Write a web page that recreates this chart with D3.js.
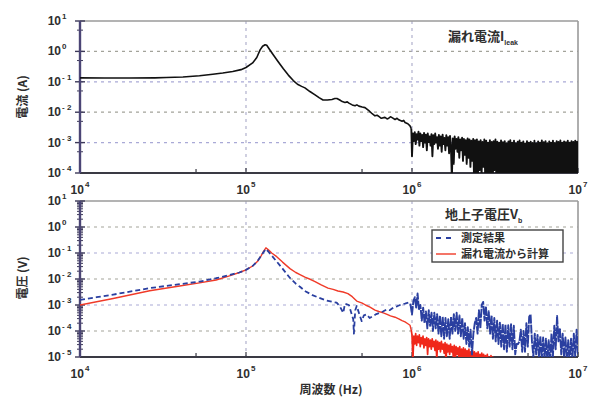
<!DOCTYPE html>
<html><head><meta charset="utf-8">
<script src="https://cdn.jsdelivr.net/npm/d3@7"></script>
<style>body{margin:0;background:#fff}svg{display:block}</style>
</head><body>
<svg id="c" width="595" height="398"></svg>
<script>
// ---------- data (log10 frequency [Hz], log10 value) ----------
const xTickExps = [4, 5, 6, 7];
const topYTickExps = [1, 0, -1, -2, -3, -4];
const botYTickExps = [1, 0, -1, -2, -3, -4, -5];
const topTitle = ["漏れ電流I", "leak"];
const botTitle = ["地上子電圧V", "b"];
const legendLabels = ["測定結果", "漏れ電流から計算"];
const xTitle = "周波数 (Hz)";
const topYTitle = "電流 (A)";
const botYTitle = "電圧 (V)";

// leakage current, smooth part
const leakSmooth = [[4.0,-0.87],[4.15,-0.875],[4.3,-0.875],[4.45,-0.87],[4.52,-0.86],[4.62,-0.84],[4.72,-0.8],[4.8,-0.75],[4.86,-0.71],[4.92,-0.66],[4.97,-0.6],[5.0,-0.53],[5.04,-0.38],[5.065,-0.2],[5.085,0.05],[5.1,0.17],[5.115,0.22],[5.125,0.2],[5.14,0.08],[5.165,-0.12],[5.195,-0.35],[5.225,-0.57],[5.255,-0.78],[5.285,-0.96],[5.31,-1.08],[5.335,-1.15],[5.355,-1.2],[5.385,-1.32],[5.416,-1.43],[5.44,-1.52],[5.464,-1.6],[5.49,-1.6],[5.518,-1.58],[5.535,-1.55],[5.548,-1.55],[5.565,-1.6],[5.58,-1.65],[5.596,-1.68],[5.61,-1.66],[5.62,-1.7],[5.64,-1.76],[5.657,-1.79],[5.668,-1.76],[5.68,-1.8],[5.7,-1.83],[5.717,-1.85],[5.74,-1.95],[5.76,-2.05],[5.777,-2.12],[5.79,-2.1],[5.8,-2.14],[5.815,-2.2],[5.837,-2.17],[5.85,-2.22],[5.86,-2.2],[5.87,-2.15],[5.88,-2.18],[5.898,-2.24],[5.91,-2.2],[5.92,-2.25],[5.94,-2.3],[5.95,-2.27],[5.958,-2.34],[5.975,-2.38],[5.988,-2.45],[5.996,-2.55]];
// leakage current, noisy part 1e6 .. 1e7 (evenly spaced in log f)
const leakNoiseRange = [6.0, 7.0];
const leakNoise = [
-3.45,-2.7,-2.95,-2.66,-3.05,-2.72,-2.9,-2.64,-3.1,-2.7,
-2.95,-2.75,-3.15,-2.68,-3.0,-2.74,-3.25,-2.7,-2.98,-2.8,
-3.1,-2.72,-3.45,-2.76,-3.05,-2.7,-3.0,-2.82,-3.2,-2.75,
-3.1,-2.8,-3.3,-2.74,-3.05,-2.85,-3.25,-2.76,-3.1,-2.82,
-3.35,-2.78,-3.15,-4.2,-2.86,-3.7,-2.8,-3.2,-2.88,-3.3,
-2.82,-3.5,-2.9,-3.25,-2.84,-3.6,-2.88,-3.4,-2.92,-3.7,
-2.86,-3.5,-2.9,-3.8,-2.94,-3.6,-2.88,-4.3,-2.92,-4.3,
-2.9,-4.2,-2.96,-3.9,-2.92,-4.1,-2.98,-3.8,-2.9,-4.2,
-2.94,-4.0,-3.0,-4.3,-2.92,-4.1,-2.98,-4.4,-2.95,-3.9,
-2.9,-4.2,-2.97,-4.0,-3.0,-4.5,-2.93,-4.1,-2.99,-4.3,
-2.95,-4.0,-3.02,-4.2,-2.96,-4.4,-2.92,-4.1,-3.0,-4.3,
-2.94,-4.2,-3.02,-4.5,-2.97,-4.0,-2.93,-4.3,-3.0,-4.1,
-2.96,-4.4,-3.03,-4.2,-2.95,-4.3,-3.0,-4.5,-2.97,-4.1,
-3.01,-4.3,-2.94,-4.4,-3.02,-4.15,-2.96,-4.3,-3.0,-4.5,
-2.93,-4.2,-2.99,-4.4,-2.95,-4.1,-3.02,-4.45,-2.96,-4.3,
-3.0,-4.35,-2.94,-4.15,-3.01,-4.5,-2.95,-4.25,-2.98,-4.4,
-2.93,-4.3,-3.0,-4.45,-2.96,-4.2,-2.99,-4.5,-2.94,-4.35,
-3.0,-4.2,-2.95,-4.45,-2.98,-4.3,-2.94,-4.5,-2.97,-4.2];

// measured voltage (blue dashed)
const measSmooth = [[4.0,-2.8],[4.1,-2.7],[4.2,-2.6],[4.42,-2.35],[4.6,-2.2],[4.72,-2.1],[4.82,-1.97],[4.9,-1.85],[4.96,-1.75],[5.0,-1.65],[5.04,-1.5],[5.07,-1.3],[5.09,-1.12],[5.105,-0.97],[5.12,-0.84],[5.135,-0.95],[5.155,-1.1],[5.185,-1.33],[5.22,-1.6],[5.265,-1.96],[5.3,-2.18],[5.325,-2.3],[5.36,-2.48],[5.40,-2.62],[5.44,-2.72],[5.48,-2.82],[5.52,-2.88],[5.546,-2.91],[5.565,-3.05],[5.586,-3.3],[5.596,-2.95],[5.62,-3.0],[5.646,-3.55],[5.65,-4.1],[5.658,-3.2],[5.667,-3.04],[5.68,-3.3],[5.697,-3.62],[5.71,-3.4],[5.727,-3.36],[5.745,-3.5],[5.767,-3.42],[5.785,-3.35],[5.807,-3.3],[5.825,-3.25],[5.847,-3.17],[5.865,-3.2],[5.887,-3.1],[5.91,-3.05],[5.938,-2.97],[5.958,-2.95],[5.978,-2.91],[5.99,-2.95]];
const measNoiseRange = [6.0, 7.0];
const measNoise = [
-3.36,-2.85,-2.7,-3.1,-2.56,-3.2,-3.0,-3.6,-3.1,-3.7,
-3.25,-3.9,-3.2,-3.8,-3.3,-4.0,-3.3,-3.9,-3.35,-4.1,
-3.4,-4.2,-3.45,-4.3,-3.5,-4.2,-3.55,-4.3,-3.45,-4.1,
-3.35,-4.0,-3.3,-4.1,-3.4,-4.2,-3.5,-4.3,-3.7,-4.5,
-3.85,-4.6,-3.95,-4.9,-4.1,-3.7,-3.5,-4.1,-3.2,-3.9,
-3.0,-2.88,-3.6,-3.05,-3.9,-3.24,-4.1,-3.4,-4.3,-3.5,
-4.4,-3.6,-4.5,-3.68,-4.6,-3.72,-4.7,-3.75,-4.8,-3.78,
-4.6,-3.74,-4.7,-3.8,-4.9,-4.5,-4.5,-4.4,-3.95,-4.8,
-4.0,-4.8,-3.7,-4.6,-3.45,-3.36,-4.4,-5.0,-4.1,-4.9,
-4.15,-5.0,-4.2,-5.1,-4.25,-5.1,-4.3,-5.1,-4.35,-5.2,
-4.1,-5.0,-3.8,-4.7,-3.42,-4.4,-3.9,-4.9,-4.1,-5.0,
-4.25,-5.1,-4.35,-5.2,-4.3,-5.1,-4.1,-5.0,-3.95,-4.9];

// voltage calculated from leakage current (red)
const calcSmooth = [[4.0,-3.0],[4.2,-2.75],[4.42,-2.45],[4.6,-2.27],[4.72,-2.15],[4.82,-2.04],[4.9,-1.88],[4.96,-1.75],[5.0,-1.65],[5.04,-1.5],[5.07,-1.32],[5.09,-1.12],[5.105,-0.95],[5.12,-0.8],[5.135,-0.88],[5.155,-1.0],[5.185,-1.14],[5.22,-1.35],[5.265,-1.6],[5.3,-1.75],[5.325,-1.83],[5.355,-1.93],[5.39,-2.02],[5.416,-2.1],[5.45,-2.22],[5.494,-2.35],[5.525,-2.4],[5.554,-2.46],[5.585,-2.5],[5.614,-2.56],[5.64,-2.68],[5.667,-2.85],[5.70,-2.93],[5.72,-3.0],[5.747,-3.08],[5.777,-3.2],[5.80,-3.25],[5.827,-3.3],[5.85,-3.36],[5.87,-3.42],[5.898,-3.47],[5.92,-3.53],[5.94,-3.6],[5.958,-3.65],[5.975,-3.72],[5.988,-3.78],[5.995,-3.95]];
const calcNoiseRange = [6.0, 6.52];
const calcNoise = [
-4.15,-5.1,-4.2,-4.5,-4.1,-4.55,-4.2,-4.45,-4.15,-4.6,
-4.25,-4.5,-4.2,-4.65,-4.3,-4.55,-4.25,-4.9,-4.3,-4.6,
-4.35,-4.7,-4.3,-4.6,-4.4,-4.75,-4.35,-5.1,-4.4,-4.7,
-4.45,-4.8,-4.4,-4.7,-4.5,-4.85,-4.45,-5.2,-4.5,-4.8,
-4.55,-4.9,-4.5,-4.8,-4.6,-5.0,-4.55,-5.2,-4.6,-4.9,
-4.65,-5.0,-4.6,-5.1,-4.7,-5.0,-4.65,-5.3,-4.7,-5.05,
-4.75,-5.1,-4.7,-5.2,-4.8,-5.1,-4.75,-5.3,-4.8,-5.15,
-4.85,-5.2,-4.8,-5.3,-4.9,-5.2,-4.85,-5.3,-4.9,-5.25,
-4.95,-5.3,-4.9,-5.3,-5.0,-5.3,-4.95,-5.3,-5.0,-5.3,
-5.05,-5.3,-5.1,-5.3,-5.2];

// ---------- helpers ----------
const p10 = e => Math.pow(10, e);
const pairs = arr => arr.map(([e, v]) => [p10(e), p10(v)]);
const noisePts = (range, vals) => vals.map((v, i) => [p10(range[0] + i * (range[1] - range[0]) / (vals.length - 1)), p10(v)]);

const svg = d3.select("#c");
const W = { l: 80, r: 578 };
const x = d3.scaleLog().domain([1e4, 1e7]).range([W.l, W.r]);
const yTop = d3.scaleLog().domain([1e-4, 1e1]).range([173, 21]);
const yBot = d3.scaleLog().domain([1e-5, 1e1]).range([357, 201]);

const numFont = "'Liberation Sans', Arial, sans-serif";
const jpFont = "'Noto Sans CJK JP', sans-serif";
const txtCol = "#2e2e2e";

const defs = svg.append("defs");
function clip(id, y) {
  defs.append("clipPath").attr("id", id).append("rect")
    .attr("x", W.l).attr("y", y.range()[1]).attr("width", W.r - W.l).attr("height", y.range()[0] - y.range()[1]);
}
clip("clipTop", yTop); clip("clipBot", yBot);

function panel(y, yExps, minorMults, clipId) {
  const g = svg.append("g");
  const [yb, yt] = y.range();
  // horizontal grid
  yExps.slice(1, -1).forEach((e, i) => {
    g.append("line").attr("x1", W.l).attr("x2", W.r).attr("y1", y(p10(e))).attr("y2", y(p10(e)))
      .attr("stroke", i % 2 ? "#a9a9d6" : "#a3a39a").attr("stroke-width", 1.2).attr("stroke-dasharray", "3,4");
  });
  // vertical grid
  [5, 6].forEach(e => {
    g.append("line").attr("x1", x(p10(e))).attr("x2", x(p10(e))).attr("y1", yt).attr("y2", yb)
      .attr("stroke", "#a9a9c8").attr("stroke-width", 1.1).attr("stroke-dasharray", "3,4");
  });
  // frame (top/right)
  g.append("line").attr("x1", W.l).attr("x2", W.r).attr("y1", yt).attr("y2", yt).attr("stroke", "#9a9a9a").attr("stroke-width", 1.6);
  g.append("line").attr("x1", W.r).attr("x2", W.r).attr("y1", yt).attr("y2", yb).attr("stroke", "#9a9a9a").attr("stroke-width", 1.6);
  // y ticks
  const lo = d3.min(yExps), hi = d3.max(yExps);
  for (let e = lo; e < hi; e++) {
    minorMults.forEach(m => {
      const yy = y(m * p10(e));
      g.append("line").attr("x1", W.l - 3).attr("x2", W.l + 3).attr("y1", yy).attr("y2", yy).attr("stroke", "#3c3858").attr("stroke-width", 1);
    });
  }
  yExps.forEach(e => {
    const yy = y(p10(e));
    g.append("line").attr("x1", W.l - 5).attr("x2", W.l + 5).attr("y1", yy).attr("y2", yy).attr("stroke", "#3c3858").attr("stroke-width", 1.4);
    g.append("text").attr("x", 61).attr("y", yy + 4).attr("text-anchor", "end")
      .attr("font-family", numFont).attr("font-weight", "bold").attr("font-size", 12).attr("fill", txtCol).text("10");
    g.append("text").attr("x", 62).attr("y", yy - 2).attr("text-anchor", "start")
      .attr("font-family", numFont).attr("font-weight", "bold").attr("font-size", 8).attr("fill", txtCol).text(e < 0 ? "- " + (-e) : e);
  });
  // x ticks
  [4, 5, 6].forEach(e => {
    const xx = x(5 * p10(e));
    g.append("line").attr("x1", xx).attr("x2", xx).attr("y1", yb).attr("y2", yb - 4).attr("stroke", "#3a3a44").attr("stroke-width", 1.2);
  });
  xTickExps.forEach(e => {
    const xx = x(p10(e));
    g.append("line").attr("x1", xx).attr("x2", xx).attr("y1", yb).attr("y2", yb - 5).attr("stroke", "#3a3a44").attr("stroke-width", 1.2);
    const t = g.append("text").attr("x", xx).attr("y", yb + 21).attr("text-anchor", "middle")
      .attr("font-family", numFont).attr("font-weight", "bold").attr("font-size", 12).attr("fill", txtCol);
    t.append("tspan").text("10");
    t.append("tspan").attr("dy", -7).attr("dx", 1).attr("font-size", 8).text(e);
  });
  // axes lines
  g.append("line").attr("x1", W.l).attr("x2", W.r).attr("y1", yb).attr("y2", yb).attr("stroke", "#3a3a44").attr("stroke-width", 2.2);
  g.append("line").attr("x1", W.l).attr("x2", W.l).attr("y1", yt).attr("y2", yb).attr("stroke", "#4b4575").attr("stroke-width", 2.4);
  return svg.append("g").attr("clip-path", `url(#${clipId})`);
}

const gTop = panel(yTop, topYTickExps, [5], "clipTop");
const gBot = panel(yBot, botYTickExps, [2, 3, 4, 5, 6, 7, 8, 9], "clipBot");

const lineTop = d3.line().x(d => x(d[0])).y(d => yTop(d[1]));
const lineBot = d3.line().x(d => x(d[0])).y(d => yBot(d[1]));

// leakage current
gTop.append("path").datum(pairs(leakSmooth))
  .attr("d", lineTop).attr("fill", "none").attr("stroke", "#111").attr("stroke-width", 1.6).attr("stroke-linejoin", "round");
gTop.append("path").datum([pairs(leakSmooth).slice(-1)[0]].concat(noisePts(leakNoiseRange, leakNoise)))
  .attr("d", lineTop).attr("fill", "none").attr("stroke", "#111").attr("stroke-width", 1.9).attr("stroke-linejoin", "round");

// calculated (red)
gBot.append("path").datum(pairs(calcSmooth))
  .attr("d", lineBot).attr("fill", "none").attr("stroke", "#f03a28").attr("stroke-width", 1.4).attr("stroke-linejoin", "round");
gBot.append("path").datum([pairs(calcSmooth).slice(-1)[0]].concat(noisePts(calcNoiseRange, calcNoise)))
  .attr("d", lineBot).attr("fill", "none").attr("stroke", "#f0281a").attr("stroke-width", 1.7).attr("stroke-linejoin", "round");

// measured (blue)
gBot.append("path").datum(pairs(measSmooth))
  .attr("d", lineBot).attr("fill", "none").attr("stroke", "#2a3fa0").attr("stroke-width", 1.8)
  .attr("stroke-dasharray", "5,3").attr("stroke-linejoin", "round");
gBot.append("path").datum([pairs(measSmooth).slice(-1)[0]].concat(noisePts(measNoiseRange, measNoise)))
  .attr("d", lineBot).attr("fill", "none").attr("stroke", "#2a3fa0").attr("stroke-width", 1.9)
  .attr("stroke-dasharray", "9,1").attr("stroke-linejoin", "round");

// titles
function subTitle(xx, yy, parts) {
  const t = svg.append("text").attr("x", xx).attr("y", yy).attr("font-weight", "bold").attr("fill", txtCol);
  t.append("tspan").attr("font-family", jpFont).attr("font-size", 13).text(parts[0]);
  t.append("tspan").attr("font-family", numFont).attr("font-size", 7).attr("dy", 4).text(parts[1]);
}
subTitle(448, 41, topTitle);
subTitle(445, 219, botTitle);

// legend
const lg = svg.append("g");
lg.append("rect").attr("x", 432).attr("y", 230).attr("width", 131).attr("height", 32)
  .attr("fill", "#fff").attr("stroke", "#444").attr("stroke-width", 1.4);
lg.append("line").attr("x1", 436).attr("x2", 456).attr("y1", 238).attr("y2", 238)
  .attr("stroke", "#2a3fa0").attr("stroke-width", 1.8).attr("stroke-dasharray", "5,5");
lg.append("line").attr("x1", 436).attr("x2", 456).attr("y1", 254).attr("y2", 254)
  .attr("stroke", "#f03a28").attr("stroke-width", 1.4);
legendLabels.forEach((s, i) => {
  lg.append("text").attr("x", 461).attr("y", 242 + i * 16).attr("font-family", jpFont).attr("font-weight", "bold")
    .attr("font-size", 11).attr("fill", txtCol).text(s);
});

// axis titles
svg.append("text").attr("x", 331).attr("y", 394).attr("text-anchor", "middle").attr("font-family", jpFont)
  .attr("font-weight", "bold").attr("font-size", 12).attr("fill", txtCol).text(xTitle);
svg.append("text").attr("transform", "translate(27,97) rotate(-90)").attr("text-anchor", "middle").attr("font-family", jpFont)
  .attr("font-weight", "bold").attr("font-size", 12).attr("fill", txtCol).text(topYTitle);
svg.append("text").attr("transform", "translate(27,278) rotate(-90)").attr("text-anchor", "middle").attr("font-family", jpFont)
  .attr("font-weight", "bold").attr("font-size", 12).attr("fill", txtCol).text(botYTitle);
</script>
</body></html>
